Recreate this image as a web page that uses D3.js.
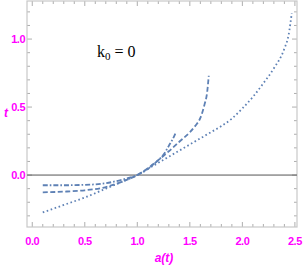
<!DOCTYPE html>
<html>
<head>
<meta charset="utf-8">
<script src="https://cdn.jsdelivr.net/npm/d3@7"></script>
<style>
  body { margin: 0; background: #fff; }
  svg { display: block; }
</style>
</head>
<body>
<div id="chart"></div>
<script>
// values: a(t) against t, three curves for k0 = 0
let dotdash_a = [0.1, 0.3, 0.5, 0.7, 0.85, 1.0, 1.1, 1.2, 1.25, 1.3, 1.35, 1.37];
let dotdash_t = [-0.075, -0.075, -0.072, -0.06, -0.035, 0, 0.045, 0.11, 0.15, 0.215, 0.285, 0.32];

let dashed_a = [0.1, 0.3, 0.5, 0.7, 0.85, 1.0, 1.1, 1.2, 1.3, 1.4, 1.5, 1.55, 1.6, 1.64, 1.665, 1.68];
let dashed_t = [-0.127, -0.122, -0.112, -0.088, -0.05, 0, 0.05, 0.11, 0.175, 0.245, 0.315, 0.36, 0.42, 0.52, 0.61, 0.73];

let dotted_a = [0.1, 0.3, 0.5, 0.7, 0.9, 1.0, 1.1, 1.2, 1.3, 1.4, 1.5, 1.6, 1.7, 1.8, 1.9, 2.0, 2.1, 2.2, 2.3, 2.4, 2.44, 2.47];
let dotted_t = [-0.275, -0.22, -0.165, -0.10, -0.035, 0, 0.045, 0.09, 0.135, 0.18, 0.225, 0.27, 0.315, 0.36, 0.415, 0.49, 0.575, 0.675, 0.785, 0.93, 1.03, 1.19];

let xticks = [0.0, 0.5, 1.0, 1.5, 2.0, 2.5];
let yticks = [0.0, 0.5, 1.0];

let width = 305, height = 273;
let margin = { left: 27, right: 8, top: 1, bottom: 46 };

let svg = d3.select("#chart").append("svg")
    .attr("width", width)
    .attr("height", height);

let x = d3.scaleLinear().domain([-0.05, 2.52]).range([margin.left, width - margin.right]);
let y = d3.scaleLinear().domain([-0.382, 1.28]).range([height - margin.bottom, margin.top]);

let magenta = "#ff00ff";
let labelFont = "'Liberation Sans Narrow', 'Liberation Sans', Arial, sans-serif";

// minor ticks every 0.1
let xminor = d3.range(0, 26).map(i => i / 10);
let yminor = d3.range(-3, 13).map(i => i / 10);

function isMajor(v) {
    return Math.abs(v * 2 - Math.round(v * 2)) < 1e-6;
}

let x0 = margin.left, x1 = width - margin.right;
let y0 = height - margin.bottom, y1 = margin.top;

let ticks = svg.append("g").attr("stroke", "#999").attr("stroke-width", 0.8);
xminor.forEach(v => {
    let len = isMajor(v) ? 5 : 3;
    ticks.append("line").attr("x1", x(v)).attr("x2", x(v)).attr("y1", y0).attr("y2", y0 - len);
    ticks.append("line").attr("x1", x(v)).attr("x2", x(v)).attr("y1", y1).attr("y2", y1 + len);
});
yminor.forEach(v => {
    let len = isMajor(v) ? 5 : 3;
    ticks.append("line").attr("x1", x0).attr("x2", x0 + len).attr("y1", y(v)).attr("y2", y(v));
    ticks.append("line").attr("x1", x1).attr("x2", x1 - len).attr("y1", y(v)).attr("y2", y(v));
});

// frame
svg.append("rect")
    .attr("x", x0).attr("y", y1)
    .attr("width", x1 - x0).attr("height", y0 - y1)
    .attr("fill", "none")
    .attr("stroke", "#c8c8c8")
    .attr("stroke-width", 1.2);

// zero line
svg.append("line")
    .attr("x1", x0).attr("x2", x1)
    .attr("y1", y(0)).attr("y2", y(0))
    .attr("stroke", "#555")
    .attr("stroke-width", 1);

// tick labels
svg.append("g").selectAll("text").data(xticks).join("text")
    .attr("x", d => x(d))
    .attr("y", y0 + 18)
    .attr("text-anchor", "middle")
    .attr("font-family", labelFont)
    .attr("font-weight", "bold")
    .attr("font-size", 11)
    .attr("letter-spacing", -0.5)
    .attr("fill", magenta)
    .text(d => d.toFixed(1));

svg.append("g").selectAll("text").data(yticks).join("text")
    .attr("x", x0 - 2)
    .attr("y", d => y(d) + 4)
    .attr("text-anchor", "end")
    .attr("font-family", labelFont)
    .attr("font-weight", "bold")
    .attr("font-size", 11)
    .attr("letter-spacing", -0.5)
    .attr("fill", magenta)
    .text(d => d.toFixed(1));

// axis titles
svg.append("text")
    .attr("x", 164).attr("y", 262)
    .attr("text-anchor", "middle")
    .attr("font-family", labelFont)
    .attr("font-weight", "bold")
    .attr("font-style", "italic")
    .attr("font-size", 12)
    .attr("fill", magenta)
    .text("a(t)");

svg.append("text")
    .attr("x", 6).attr("y", 117)
    .attr("text-anchor", "middle")
    .attr("font-family", labelFont)
    .attr("font-weight", "bold")
    .attr("font-style", "italic")
    .attr("font-size", 12)
    .attr("fill", magenta)
    .text("t");

// curves
let line = d3.line()
    .x(d => x(d[0]))
    .y(d => y(d[1]))
    .curve(d3.curveMonotoneX);

let curves = [
    { a: dotted_a, t: dotted_t, dash: "1.6,2.6" },
    { a: dashed_a, t: dashed_t, dash: "5,2.5" },
    { a: dotdash_a, t: dotdash_t, dash: "5,2,1.6,2" }
];

let plot = svg.append("g");
curves.forEach(c => {
    plot.append("path")
        .datum(c.a.map((v, i) => [v, c.t[i]]))
        .attr("fill", "none")
        .attr("stroke", "#5e81b5")
        .attr("stroke-width", 1.8)
        .attr("stroke-dasharray", c.dash)
        .attr("d", line);
});

// annotation
let ann = svg.append("text")
    .attr("x", 97).attr("y", 57)
    .attr("font-family", "'Liberation Serif', 'Times New Roman', serif")
    .attr("font-size", 16)
    .attr("fill", "#000");
ann.append("tspan").text("k");
ann.append("tspan").attr("font-size", 11).attr("dy", 3).text("0");
ann.append("tspan").attr("dy", -3).text(" = 0");
</script>
</body>
</html>
